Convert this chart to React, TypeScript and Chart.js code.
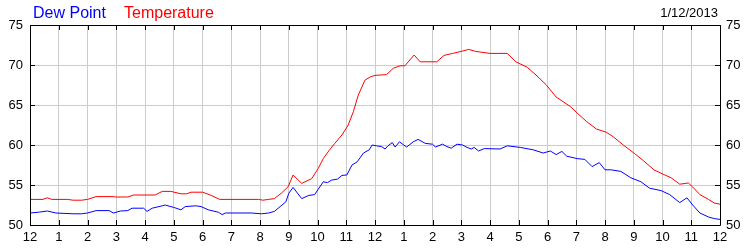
import React, { useEffect, useRef } from "react";
import { Chart, registerables } from "chart.js";

Chart.register(...registerables);

const xTickLabels = ["12","1","2","3","4","5","6","7","8","9","10","11","12","1","2","3","4","5","6","7","8","9","10","11","12"];
const yTicks = [50, 55, 60, 65, 70, 75];
const dateLabel = "1/12/2013";
const seriesNames = ["Dew Point", "Temperature"];

const tempHours = [0,0.45,0.6,0.75,1.3,1.5,1.8,2.0,2.3,2.85,3.0,3.4,3.6,4.35,4.6,4.9,5.25,5.45,5.6,6.0,6.3,6.6,7.95,8.1,8.3,8.5,8.75,8.98,9.15,9.45,9.8,10.03,10.2,10.42,10.6,10.85,11.07,11.25,11.42,11.65,11.83,12.0,12.4,12.64,12.87,13.04,13.36,13.57,14.15,14.4,14.7,15.0,15.26,15.5,16.0,16.6,16.9,17.3,17.6,17.96,18.3,18.8,19.03,19.37,19.7,20.04,20.3,20.6,21.04,21.35,21.7,22.05,22.3,22.6,22.9,23.05,23.3,23.6,23.8,24];
const tempValues = [53.2,53.2,53.4,53.2,53.2,53.1,53.1,53.2,53.55,53.55,53.5,53.5,53.75,53.75,54.2,54.2,53.9,53.9,54.1,54.1,53.7,53.2,53.2,53.1,53.2,53.3,54.0,54.8,56.25,55.2,55.8,57.1,58.3,59.4,60.2,61.25,62.5,64.2,66.25,68.1,68.5,68.7,68.8,69.6,69.9,69.9,71.25,70.4,70.4,71.2,71.45,71.7,71.95,71.7,71.45,71.45,70.4,69.7,68.75,67.5,66.0,64.8,64.0,62.9,62.0,61.6,61.0,60.1,58.9,58.0,56.9,56.3,55.9,55.1,55.25,54.75,53.8,53.2,52.75,52.6];

const dewHours = [0,0.3,0.6,0.9,1.5,1.8,2.0,2.3,2.75,2.9,3.15,3.4,3.55,3.95,4.07,4.25,4.6,4.7,5.0,5.25,5.4,5.77,5.95,6.2,6.55,6.68,6.8,7.7,8.05,8.3,8.5,8.7,8.9,9.0,9.15,9.3,9.45,9.7,9.9,10.2,10.35,10.48,10.7,10.85,11.02,11.2,11.38,11.6,11.8,11.9,12.05,12.23,12.35,12.45,12.6,12.7,12.85,13.0,13.1,13.33,13.5,13.75,14.0,14.1,14.35,14.5,14.65,14.85,15.05,15.2,15.35,15.45,15.6,15.8,16.35,16.6,17.05,17.5,17.85,18.1,18.3,18.5,18.67,19.03,19.3,19.55,19.8,20.0,20.2,20.55,20.9,21.25,21.55,21.95,22.25,22.6,22.85,23.05,23.3,23.6,23.8,24];
const dewValues = [51.5,51.6,51.75,51.5,51.4,51.4,51.5,51.8,51.8,51.5,51.75,51.8,52.1,52.1,51.7,52.1,52.4,52.5,52.2,51.9,52.3,52.4,52.3,51.9,51.6,51.3,51.5,51.5,51.4,51.5,51.7,52.3,52.9,53.95,54.7,54.0,53.3,53.7,53.8,55.4,55.3,55.6,55.75,56.2,56.25,57.5,57.9,59.0,59.4,60.0,59.9,59.8,59.5,59.9,60.3,59.75,60.4,60.0,59.75,60.4,60.7,60.2,60.1,59.75,60.1,59.8,59.6,60.1,60.0,59.7,59.5,59.7,59.25,59.55,59.5,59.9,59.7,59.4,59.0,59.25,58.8,59.2,58.6,58.3,58.2,57.3,57.8,56.9,56.9,56.7,55.9,55.4,54.6,54.3,53.8,52.8,53.4,52.5,51.5,51.0,50.8,50.7];

const FONT = '"Liberation Sans", Arial, sans-serif';

const framePlugin = {
  id: "framePlugin",
  afterDraw(chart: any) {
    const { ctx, chartArea } = chart;
    const { left, right, top, bottom } = chartArea;
    const xs = chart.scales.x;
    const ys = chart.scales.y;
    ctx.save();
    ctx.strokeStyle = "#000";
    ctx.lineWidth = 1;
    ctx.beginPath();
    ctx.rect(Math.round(left) + 0.5, Math.round(top) + 0.5, Math.round(right - left), Math.round(bottom - top));
    ctx.stroke();
    ctx.beginPath();
    xs.ticks.forEach((t: any) => {
      const px = Math.round(xs.getPixelForValue(t.value)) + 0.5;
      ctx.moveTo(px, top);
      ctx.lineTo(px, top + 5);
      ctx.moveTo(px, bottom);
      ctx.lineTo(px, bottom - 5);
    });
    ys.ticks.forEach((t: any) => {
      const py = Math.round(ys.getPixelForValue(t.value)) + 0.5;
      ctx.moveTo(left, py);
      ctx.lineTo(left + 5, py);
      ctx.moveTo(right, py);
      ctx.lineTo(right - 5, py);
    });
    ctx.stroke();
    ctx.textBaseline = "alphabetic";
    ctx.font = "16px " + FONT;
    ctx.textAlign = "left";
    ctx.fillStyle = "#0000ff";
    ctx.fillText(seriesNames[0], 33, 18);
    ctx.fillStyle = "#ff0000";
    ctx.fillText(seriesNames[1], 124, 18);
    ctx.font = "13px " + FONT;
    ctx.fillStyle = "#000";
    ctx.textAlign = "right";
    ctx.fillText(dateLabel, 718, 17);
    ctx.restore();
  },
};

export default function App() {
  const ref = useRef<HTMLCanvasElement>(null);
  useEffect(() => {
    document.body.style.margin = "0";
    const canvas = ref.current!;
    const chart = new Chart(canvas, {
      type: "line",
      data: {
        datasets: [
          {
            label: seriesNames[1],
            data: tempHours.map((h, i) => ({ x: h, y: tempValues[i] })),
            borderColor: "#ff0000",
            borderWidth: 1,
            pointRadius: 0,
            tension: 0,
            yAxisID: "y",
          },
          {
            label: seriesNames[0],
            data: dewHours.map((h, i) => ({ x: h, y: dewValues[i] })),
            borderColor: "#0000ff",
            borderWidth: 1,
            pointRadius: 0,
            tension: 0,
            yAxisID: "y",
          },
        ],
      },
      options: {
        responsive: false,
        animation: false,
        events: [],
        layout: { padding: { top: 25, left: 0, right: 0, bottom: 0 } },
        plugins: { legend: { display: false }, tooltip: { enabled: false }, title: { display: false } },
        scales: {
          x: {
            type: "linear",
            min: 0,
            max: 24,
            afterFit: (s: any) => { s.height = 25; },
            grid: { color: "#cccccc", drawTicks: false },
            border: { display: false },
            ticks: {
              stepSize: 1,
              autoSkip: false,
              maxRotation: 0,
              padding: 5,
              color: "#000",
              font: { family: FONT, size: 13 },
              callback: (v: any) => xTickLabels[v] ?? "",
            },
          },
          y: {
            position: "left",
            min: 50,
            max: 75,
            afterFit: (s: any) => { s.width = 30; },
            afterBuildTicks: (s: any) => { s.ticks = yTicks.map((v) => ({ value: v })); },
            grid: { color: "#cccccc", drawTicks: false },
            border: { display: false },
            ticks: { padding: 7, color: "#000", font: { family: FONT, size: 13 } },
          },
          y2: {
            position: "right",
            min: 50,
            max: 75,
            afterFit: (s: any) => { s.width = 30; },
            afterBuildTicks: (s: any) => { s.ticks = yTicks.map((v) => ({ value: v })); },
            grid: { display: false, drawTicks: false },
            border: { display: false },
            ticks: { padding: 6, color: "#000", font: { family: FONT, size: 13 } },
          },
        },
      },
      plugins: [framePlugin],
    } as any);
    return () => chart.destroy();
  }, []);
  return <canvas ref={ref} width={750} height={250} style={{ display: "block" }} />;
}
